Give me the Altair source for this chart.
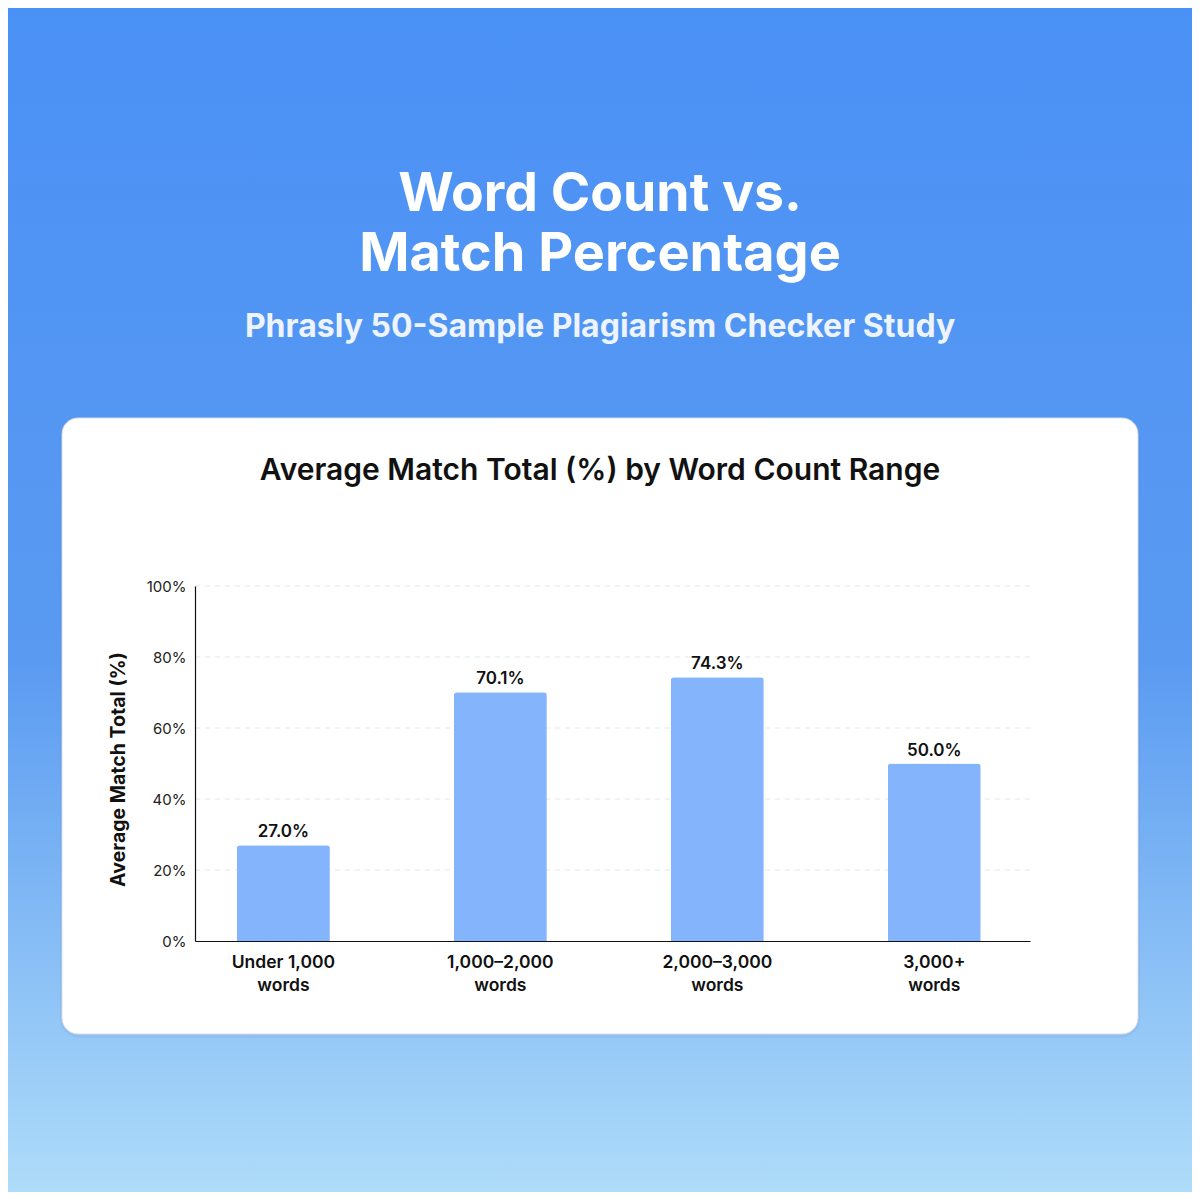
import pandas as pd
import altair as alt

### Values

categories = ["Under 1,000", "1,000–2,000", "2,000–3,000", "3,000+"]
match_pct = [27.0, 70.1, 74.3, 50.0]
y_ticks = [0, 20, 40, 60, 80, 100]

title_lines = ["Word Count vs.", "Match Percentage"]
subtitle = "Phrasly 50-Sample Plagiarism Checker Study"
chart_title = "Average Match Total (%) by Word Count Range"
y_title = "Average Match Total (%)"

FONT = "Inter"
BAR_COLOR = "#84b4fb"

bars_data = pd.DataFrame({"range": categories, "pct": match_pct})
bars_data["label"] = bars_data["pct"].map(lambda v: f"{v:.1f}%")

one_row = pd.DataFrame({"k": [0]})

### Background gradient and white card (pixel positions relative to the plot area)

background = (alt.Chart(one_row)
    .mark_rect(fill=alt.LinearGradient(
        gradient="linear", x1=0, x2=0, y1=0, y2=1,
        stops=[alt.GradientStop(color="#4a91f6", offset=0),
               alt.GradientStop(color="#5a9af1", offset=0.55),
               alt.GradientStop(color="#aedcf9", offset=1)]))
    .encode(x=alt.value(-187), x2=alt.value(997), y=alt.value(-578), y2=alt.value(606)))

shadow = (alt.Chart(one_row)
    .mark_rect(cornerRadius=20, fill="#1e3a6e", opacity=0.06)
    .encode(x=alt.value(-135), x2=alt.value(945), y=alt.value(-166), y2=alt.value(452)))

card = (alt.Chart(one_row)
    .mark_rect(cornerRadius=16, fill="white", stroke="#d6dce6", strokeWidth=1)
    .encode(x=alt.value(-133), x2=alt.value(943), y=alt.value(-168), y2=alt.value(448)))

### Headline texts

def text_layer(txt, y, size, color, weight):
    return (alt.Chart(one_row)
        .mark_text(text=txt, font=FONT, fontSize=size, fontWeight=weight, color=color,
                   align="center", baseline="middle")
        .encode(x=alt.value(405), y=alt.value(y)))

heading = (text_layer(title_lines[0], -391, 53.5, "white", 700)
    + text_layer(title_lines[1], -331, 54, "white", 700)
    + text_layer(subtitle, -259, 32, "#eef4ff", 700)
    + text_layer(chart_title, -115, 30, "#111111", 600))

### Axes

x_enc = alt.X("range:N", sort=categories, title=None,
    scale=alt.Scale(paddingInner=0.5714, paddingOuter=0.21, align=0.46),
    axis=alt.Axis(labelAngle=0, labelFont=FONT, labelFontSize=17.5, labelFontWeight=600,
                  labelColor="#111111", labelLineHeight=23, labelPadding=12,
                  labelExpr="[datum.label, 'words']", ticks=False,
                  domainColor="#111111", domainWidth=1.2, grid=False, zindex=1))

y_enc = alt.Y("pct:Q", title=y_title,
    scale=alt.Scale(domain=[0, 100], nice=False),
    axis=alt.Axis(values=y_ticks, labelExpr="datum.value + '%'", labelFont=FONT,
                  labelFontSize=15, labelColor="#222222", labelPadding=9, ticks=False,
                  domainColor="#111111", domainWidth=1.2, grid=False, zindex=1,
                  titleFont=FONT, titleFontSize=19.5, titleFontWeight=700,
                  titleColor="#111111", titleX=-77, titleY=183, titleAngle=-90,
                  titleAlign="center", titleBaseline="middle"))

### Dashed grid lines, drawn on the card but behind the bars

grid = (alt.Chart(pd.DataFrame({"pct": y_ticks[1:]}))
    .mark_rule(color="#e3e7ee", strokeDash=[5, 5], strokeWidth=1)
    .encode(y=y_enc))

### Bars and value labels

bars = (alt.Chart(bars_data)
    .mark_bar(color=BAR_COLOR, cornerRadiusTopLeft=3, cornerRadiusTopRight=3)
    .encode(x=x_enc, y=y_enc))

bar_labels = (alt.Chart(bars_data)
    .mark_text(font=FONT, fontSize=17, fontWeight=600, color="#111111",
               baseline="bottom", dy=-4)
    .encode(x=x_enc, y=y_enc, text="label:N"))

chart = (alt.layer(background, shadow, card, heading, grid, bars, bar_labels)
    .properties(width=835, height=355, padding=0)
    .configure_view(stroke=None)
    .configure(background="white"))

chart.save("out.html", embed_options={"renderer": "svg", "actions": False})
